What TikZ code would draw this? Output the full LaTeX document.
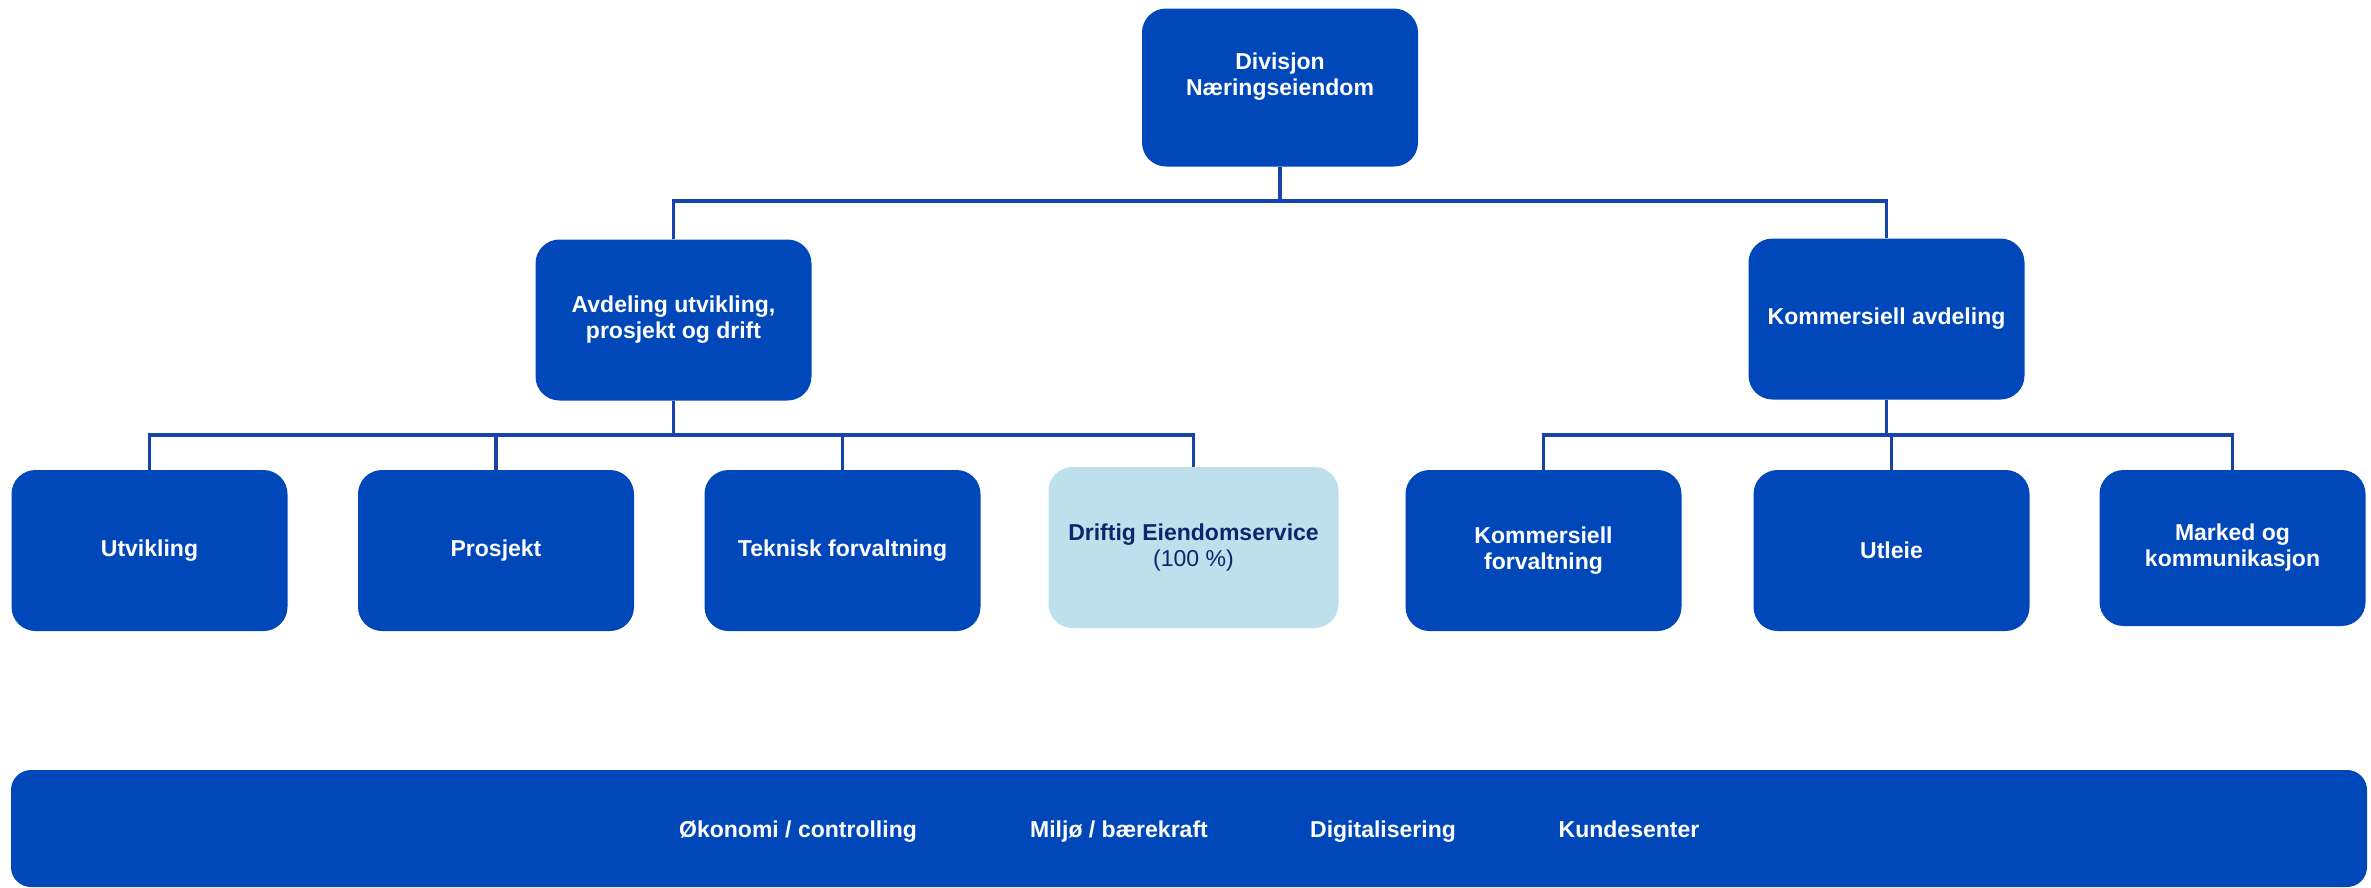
\documentclass[tikz,border=0pt]{standalone}
\usepackage{fontspec}
\setmainfont{Liberation Sans}
\definecolor{nbblue}{RGB}{0,72,186}
\definecolor{nbline}{RGB}{22,68,168}
\definecolor{nblight}{RGB}{190,224,236}
\definecolor{nbnavy}{RGB}{14,36,108}
\begin{document}
\begin{tikzpicture}[x=1pt,y=-1pt,
  orgbox/.style={rectangle, rounded corners=24pt, fill=nbblue, draw=none, inner sep=0pt,
    minimum width=276pt, minimum height=161pt, text=white, align=center,
    font=\bfseries\fontsize{23}{26}\selectfont},
  lightbox/.style={orgbox, fill=nblight, text=nbnavy},
  boxtext/.style={text=white, align=center, inner sep=0pt, font=\bfseries\fontsize{23}{26}\selectfont},
  bartext/.style={boxtext, anchor=base},
  conn/.style={draw=nbline, line width=3.2pt}
]
\path[use as bounding box] (0,0) rectangle (2371,887);

% level 1
\node[orgbox, minimum height=158pt] (top) at (1280,87.5) {};
\node[boxtext] (toptext) at (1280,77) {Divisjon\\Næringseiendom};

% level 2
\node[orgbox] (avd) at (673.5,320) {Avdeling utvikling,\\prosjekt og drift};
\node[orgbox] (kom) at (1886.5,319) {Kommersiell avdeling};

% level 3
\node[orgbox] (utv) at (149.5,550.5) {Utvikling};
\node[orgbox] (pro) at (496,550.5) {Prosjekt};
\node[orgbox] (tek) at (842.5,550.5) {Teknisk forvaltning};
\node[lightbox, minimum width=290pt] (dri) at (1193.5,547.5)
  {Driftig Eiendomservice\\{\mdseries (100 \%)}};
\node[orgbox] (kfo) at (1543.5,550.5) {Kommersiell\\forvaltning};
\node[orgbox] (utl) at (1891.5,550.5) {Utleie};
\node[orgbox, minimum width=266pt, minimum height=156pt] (mar) at (2232.5,548) {Marked og\\kommunikasjon};

% bottom bar
\node[orgbox, rounded corners=20pt, minimum width=2356pt, minimum height=117pt] (bar) at (1189,828.5) {};
\node[bartext] (b1) at (798,837) {Økonomi / controlling};
\node[bartext] (b2) at (1119,837) {Miljø / bærekraft};
\node[bartext] (b3) at (1383,837) {Digitalisering};
\node[bartext] (b4) at (1629,837) {Kundesenter};

% connectors
\coordinate (j1) at (1280,201);
\coordinate (j2) at (673.5,435);
\coordinate (j3) at (1886.5,435);
\draw[conn] (top.south) -- (j1);
\draw[conn] (j1) -| (avd.north);
\draw[conn] (j1) -| (kom.north);
\draw[conn] (avd.south) -- (j2);
\draw[conn] (j2) -| (utv.north);
\draw[conn] (j2) -| (pro.north);
\draw[conn] (j2) -| (tek.north);
\draw[conn] (j2) -| (dri.north);
\draw[conn] (kom.south) -- (j3);
\draw[conn] (j3) -| (kfo.north);
\draw[conn] (j3) -| (utl.north);
\draw[conn] (j3) -| (mar.north);
\end{tikzpicture}
\end{document}
